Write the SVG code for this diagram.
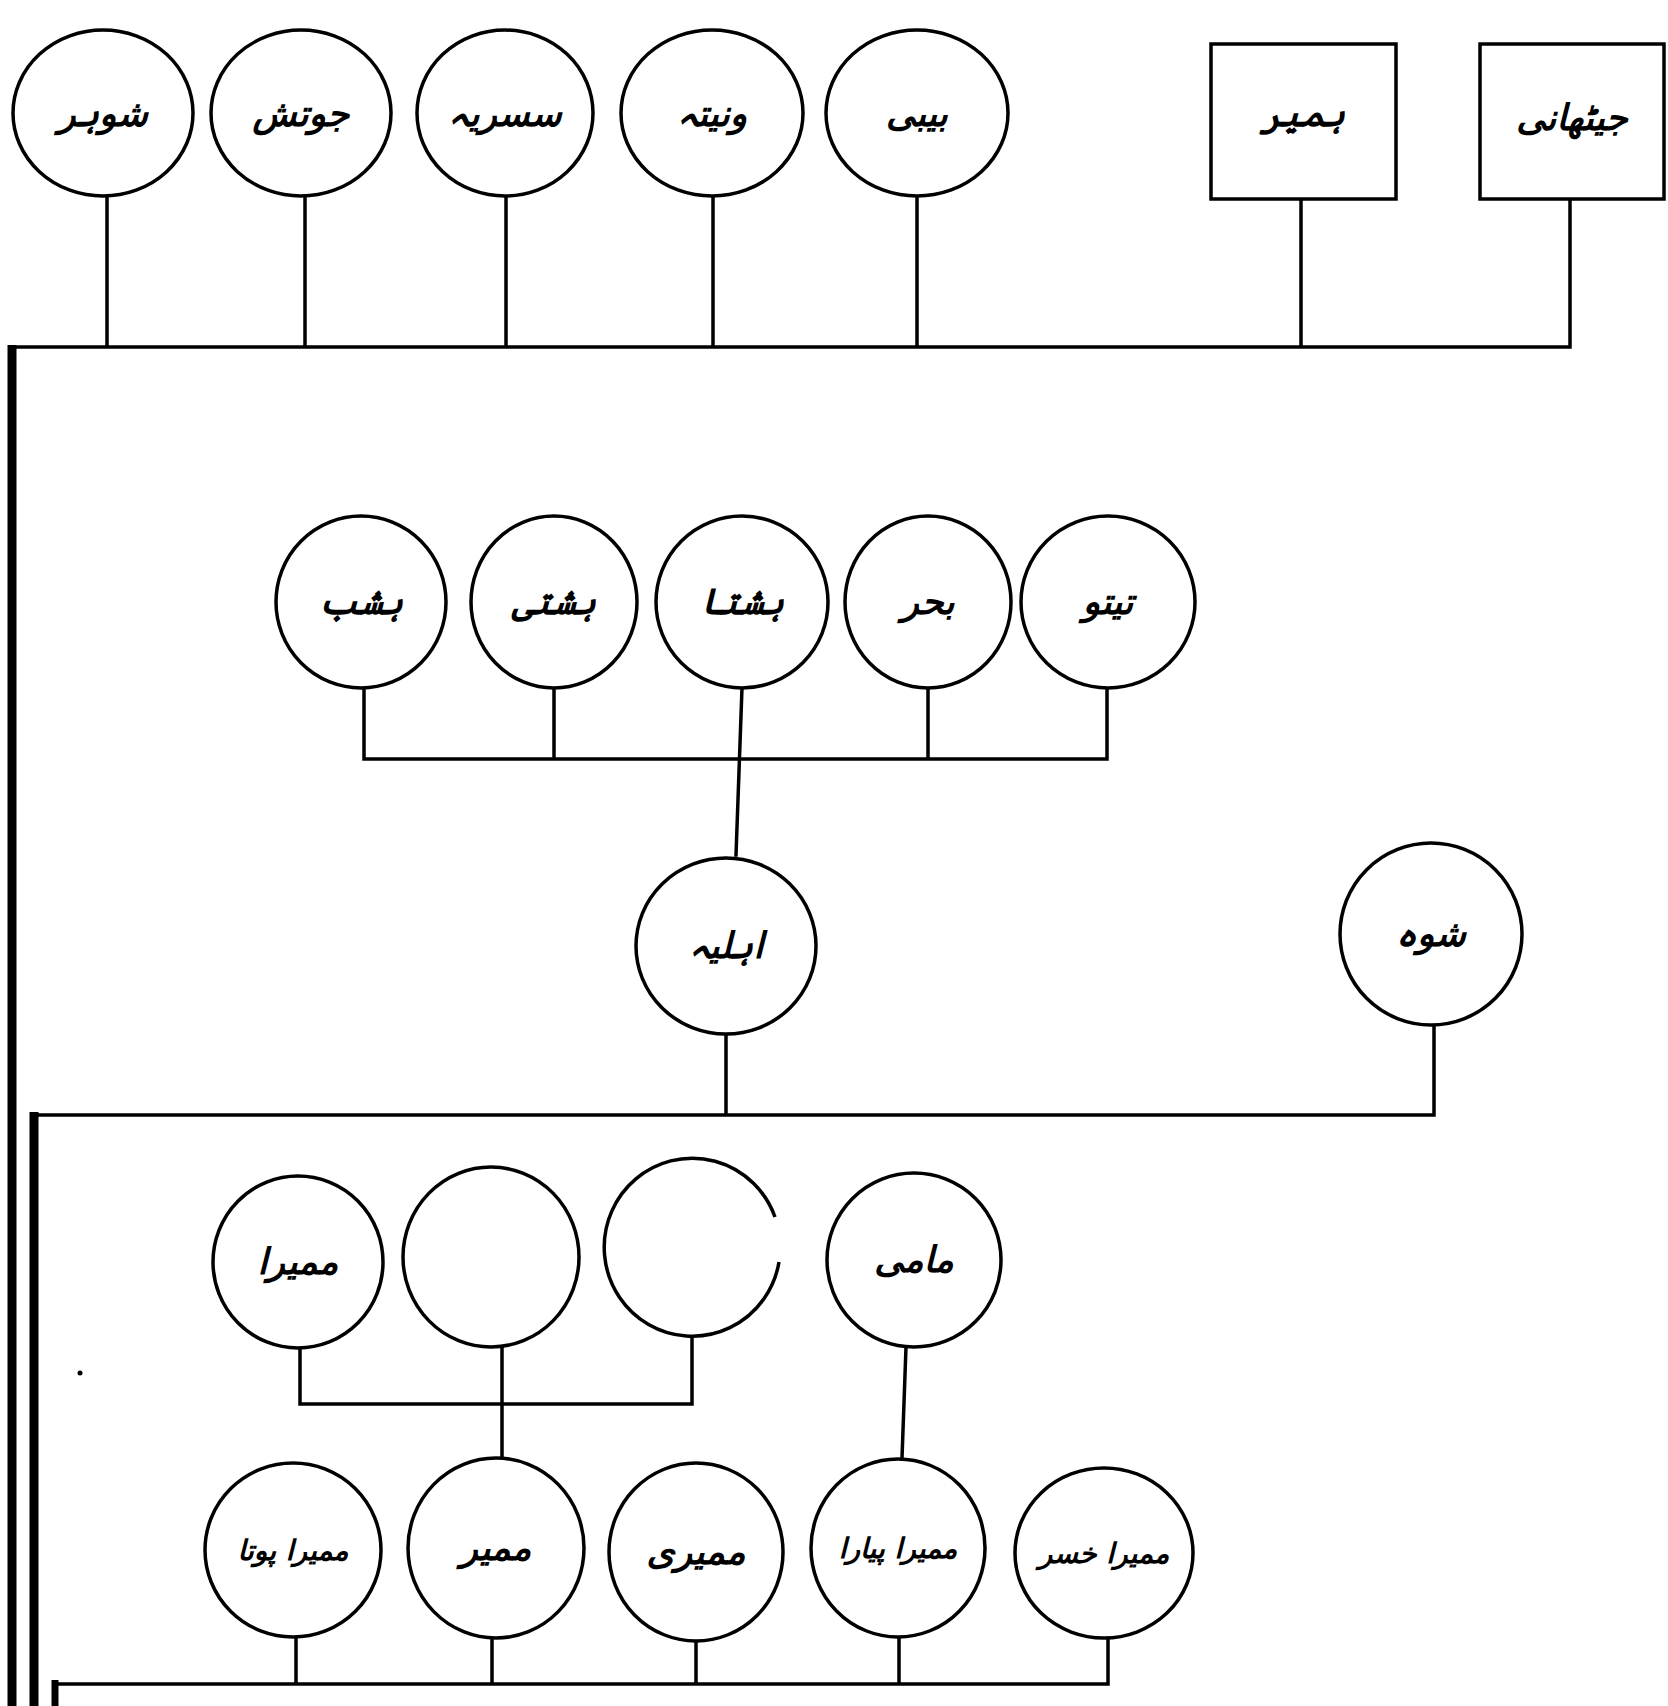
<svg xmlns="http://www.w3.org/2000/svg" width="1668" height="1706" viewBox="0 0 1668 1706">
<style>
.n{fill:#fff;stroke:#000;stroke-width:3.5}
.c{fill:none;stroke:#000;stroke-width:3.5;stroke-linecap:square}
.t{font-family:"DejaVu Sans",sans-serif;font-size:36px;font-style:italic;font-weight:bold;fill:#000;text-anchor:middle;direction:rtl}
.s{font-size:28px}
</style>
<rect width="1668" height="1706" fill="#fff"/>
<g id="connectors">
<path class="c" d="M107 196V347M305 196V347M506 196V347M713 196V347M917 196V347M1301 199V347M1570 199V347M12 347H1570"/>
<path d="M12 345V1706" stroke="#000" stroke-width="9" fill="none"/>
<path class="c" d="M364 688V759M554 688V759M928 688V759M1107 688V759M364 759H1107M742 688L736 855"/>
<path class="c" d="M726 1034V1115M1434 1026V1115M34 1115H1434"/>
<path d="M34 1112V1706" stroke="#000" stroke-width="9" fill="none"/>
<path class="c" d="M300 1349V1404M692 1330V1404M502 1347V1458M300 1404H692M906 1347L902 1458"/>
<path class="c" d="M296 1637V1684M492 1637V1684M696 1637V1684M899 1637V1684M1108 1637V1684M55 1684H1108"/>
<path d="M55 1680V1706" stroke="#000" stroke-width="7" fill="none"/>
<circle cx="80" cy="1373" r="2.5" fill="#000"/>
</g>
<g id="n1"><ellipse class="n" cx="103" cy="113" rx="90" ry="83"/><text class="t" x="103" y="126">شوہر</text></g>
<g id="n2"><ellipse class="n" cx="301" cy="113" rx="90" ry="83"/><text class="t" x="301" y="126">جوتش</text></g>
<g id="n3"><ellipse class="n" cx="505" cy="113" rx="88" ry="83"/><text class="t" x="505" y="126">سسریہ</text></g>
<g id="n4"><ellipse class="n" cx="712" cy="113" rx="91" ry="83"/><text class="t" x="712" y="126">ونیتہ</text></g>
<g id="n5"><ellipse class="n" cx="917" cy="113" rx="91" ry="83"/><text class="t" x="917" y="126">بیبی</text></g>
<g id="b1"><rect class="n" x="1211" y="44" width="185" height="155"/><text class="t" x="1303" y="126">ہمیر</text></g>
<g id="b2"><rect class="n" x="1480" y="44" width="184" height="155"/><text class="t" x="1572" y="130">جیٹھانی</text></g>
<g id="r2a"><ellipse class="n" cx="361" cy="602" rx="85" ry="86"/><text class="t" x="361" y="614">ہشب</text></g>
<g id="r2b"><ellipse class="n" cx="554" cy="602" rx="83" ry="86"/><text class="t" x="554" y="614">ہشتی</text></g>
<g id="r2c"><ellipse class="n" cx="742" cy="602" rx="86" ry="86"/><text class="t" x="742" y="614">ہشتا</text></g>
<g id="r2d"><ellipse class="n" cx="928" cy="602" rx="83" ry="86"/><text class="t" x="928" y="614">بحر</text></g>
<g id="r2e"><ellipse class="n" cx="1108" cy="602" rx="87" ry="86"/><text class="t" x="1108" y="614">تیتو</text></g>
<g id="r3a"><ellipse class="n" cx="726" cy="946" rx="90" ry="88"/><text class="t" x="726" y="958">اہلیہ</text></g>
<g id="r3b"><ellipse class="n" cx="1431" cy="934" rx="91" ry="91"/><text class="t" x="1431" y="946">شوہ</text></g>
<g id="r4a"><ellipse class="n" cx="298" cy="1262" rx="85" ry="86"/><text class="t" x="298" y="1274">ممیرا</text></g>
<g id="r4b"><ellipse class="n" cx="491" cy="1257" rx="88" ry="90"/></g>
<g id="r4c"><path class="n" d="M775 1217A88 89 0 1 0 779 1262" fill="none"/></g>
<g id="r4d"><ellipse class="n" cx="914" cy="1260" rx="87" ry="87"/><text class="t" x="914" y="1272">مامی</text></g>
<g id="r5a"><ellipse class="n" cx="293" cy="1550" rx="88" ry="87"/><text class="t s" x="293" y="1560">ممیرا پوتا</text></g>
<g id="r5b"><ellipse class="n" cx="496" cy="1548" rx="88" ry="90"/><text class="t" x="496" y="1560">ممیر</text></g>
<g id="r5c"><ellipse class="n" cx="696" cy="1552" rx="87" ry="89"/><text class="t" x="696" y="1564">ممیری</text></g>
<g id="r5d"><ellipse class="n" cx="898" cy="1548" rx="87" ry="89"/><text class="t s" x="898" y="1558">ممیرا پیارا</text></g>
<g id="r5e"><ellipse class="n" cx="1104" cy="1553" rx="89" ry="85"/><text class="t s" x="1104" y="1563">ممیرا خسر</text></g>
</svg>
